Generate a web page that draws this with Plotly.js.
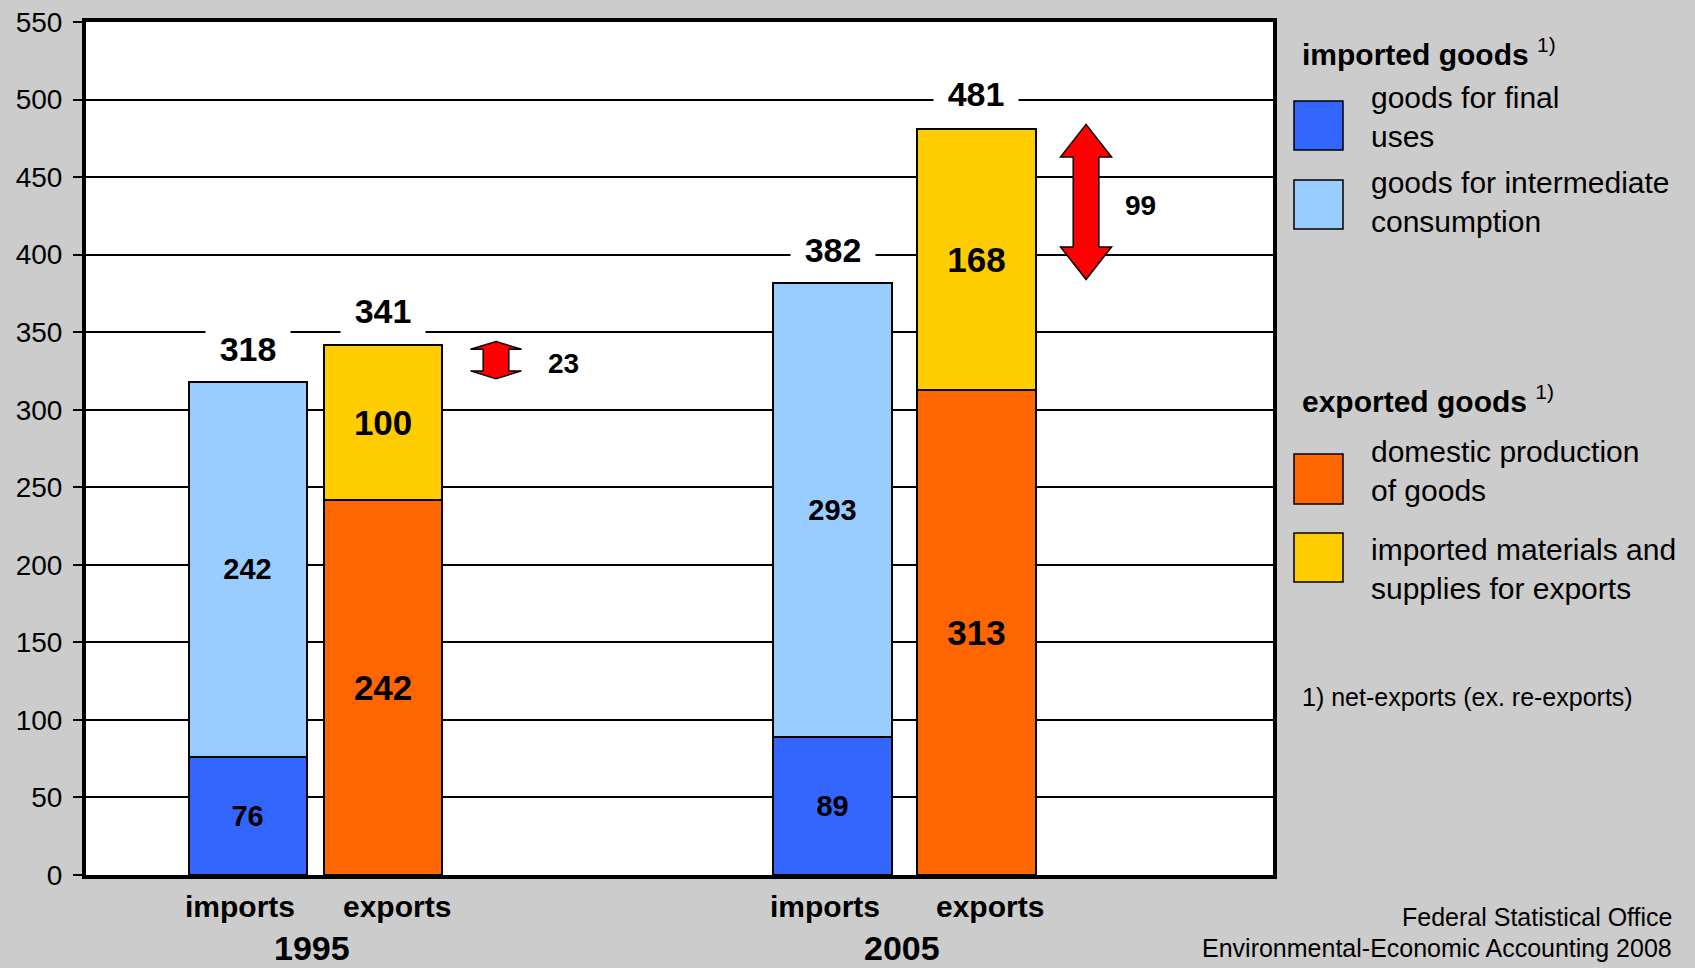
<!DOCTYPE html>
<html>
<head>
<meta charset="utf-8">
<script src="https://cdn.plot.ly/plotly-3.0.1.min.js"></script>
<style>
  html, body { margin: 0; padding: 0; background: #CCCCCC; }
  #chart { width: 1695px; height: 968px; }
</style>
</head>
<body>
<div id="chart"></div>
<script>
// ---------- data ----------
const years = ['1995', '2005'];
const barKinds = ['imports', 'exports'];
const importsFinal = [76, 89];
const importsIntermediate = [242, 293];
const exportsDomestic = [242, 313];
const exportsImportedMaterials = [100, 168];
const importsTotal = [318, 382];
const exportsTotal = [341, 481];
const netExports = [23, 99];

const legendImportHeader = 'imported goods';
const legendExportHeader = 'exported goods';
const legendLabels = [
  'goods for final<br>uses',
  'goods for intermediate<br>consumption',
  'domestic production<br>of goods',
  'imported materials and<br>supplies for exports'
];
const footnote = '1) net-exports (ex. re-exports)';
const sourceLines = ['Federal Statistical Office', 'Environmental-Economic Accounting 2008'];

// ---------- layout constants ----------
const COLORS = { final: '#3366FF', inter: '#99CCFF', domestic: '#FF6600', materials: '#FFCC00', arrow: '#FF0000' };
const FONT = 'Liberation Sans, Arial, sans-serif';
const W = 1695, H = 968;
const PL = 86, PR = 1273, PT = 22, PB = 875;   // plot area in pixels
const xImports = [1.361, 6.289];
const xExports = [2.503, 7.502];
const xArrow = [3.454, 8.425];
const xArrowLabel = [4.023, 8.88];
const BARW = 0.995;

const px = x => (x - PL) / (PR - PL);
const py = y => (PB - y) / (PB - PT);

// ---------- traces ----------
function bar(x, y, color, size) {
  return {
    type: 'bar', width: BARW, textposition: 'inside', insidetextanchor: 'middle',
    textangle: 0, hoverinfo: 'skip', showlegend: false,
    x: x, y: y, text: y.map(String),
    marker: { color: color, line: { color: '#000', width: 2 } },
    insidetextfont: { family: FONT, size: size, color: '#000', weight: 'bold' },
    textfont: { family: FONT, size: size, color: '#000', weight: 'bold' }
  };
}
const traces = [
  bar(xImports, importsFinal, COLORS.final, 29),
  bar(xImports, importsIntermediate, COLORS.inter, 29),
  bar(xExports, exportsDomestic, COLORS.domestic, 35),
  bar(xExports, exportsImportedMaterials, COLORS.materials, 35)
];

// ---------- annotations ----------
const annotations = [];
function totalLabel(x, y, shift) {
  annotations.push({
    x: x, y: y, xref: 'x', yref: 'y', text: String(y), showarrow: false,
    yshift: shift, xanchor: 'center', yanchor: 'middle',
    font: { family: FONT, size: 34, color: '#000', weight: 'bold' },
    bgcolor: '#FFFFFF', width: 84, height: 48, borderpad: 0
  });
}
years.forEach((yr, i) => {
  totalLabel(xImports[i], importsTotal[i], 33);
  totalLabel(xExports[i], exportsTotal[i], 35);
  // category labels below axis
  annotations.push({ x: xImports[i], y: py(906), xref: 'x', yref: 'paper', xshift: -8,
    text: barKinds[0], showarrow: false, yanchor: 'middle',
    font: { family: FONT, size: 30, color: '#000', weight: 'bold' } });
  annotations.push({ x: xExports[i], y: py(906), xref: 'x', yref: 'paper', xshift: 14,
    text: barKinds[1], showarrow: false, yanchor: 'middle',
    font: { family: FONT, size: 30, color: '#000', weight: 'bold' } });
  annotations.push({ x: (xImports[i] + xExports[i]) / 2, y: py(948), xref: 'x', yref: 'paper', xshift: -3,
    text: yr, showarrow: false, yanchor: 'middle',
    font: { family: FONT, size: 34, color: '#000', weight: 'bold' } });
  // net exports label
  annotations.push({ x: xArrowLabel[i], y: (importsTotal[i] + exportsTotal[i]) / 2, xref: 'x', yref: 'y',
    text: String(netExports[i]), showarrow: false, xanchor: 'center', yanchor: 'middle',
    font: { family: FONT, size: 28, color: '#000', weight: 'bold' } });
});

// legend headers
annotations.push({ x: px(1300), y: py(52), xref: 'paper', yref: 'paper', xanchor: 'left', yanchor: 'middle',
  text: '<b>' + legendImportHeader + '</b> <sup>1)</sup>', showarrow: false,
  font: { family: FONT, size: 30, color: '#000' } });
annotations.push({ x: px(1300), y: py(399), xref: 'paper', yref: 'paper', xanchor: 'left', yanchor: 'middle',
  text: '<b>' + legendExportHeader + '</b> <sup>1)</sup>', showarrow: false,
  font: { family: FONT, size: 30, color: '#000' } });

const legendBoxes = [
  { y0: 101, y1: 150, color: COLORS.final, ty: 117 },
  { y0: 180, y1: 229, color: COLORS.inter, ty: 202 },
  { y0: 454, y1: 504, color: COLORS.domestic, ty: 471 },
  { y0: 533, y1: 582, color: COLORS.materials, ty: 569 }
];
const shapes = [];
legendBoxes.forEach((b, i) => {
  shapes.push({ type: 'rect', xref: 'paper', yref: 'paper', x0: px(1294), x1: px(1343),
    y0: py(b.y1), y1: py(b.y0), fillcolor: b.color, line: { color: '#000', width: 1.5 } });
  annotations.push({ x: px(1369), y: py(b.ty), xref: 'paper', yref: 'paper', xanchor: 'left', yanchor: 'middle',
    align: 'left', text: legendLabels[i], showarrow: false,
    font: { family: FONT, size: 30, color: '#000' } });
});
annotations.push({ x: px(1300), y: py(697), xref: 'paper', yref: 'paper', xanchor: 'left', yanchor: 'middle',
  text: footnote, showarrow: false, font: { family: FONT, size: 25, color: '#000' } });
annotations.push({ x: px(1674), y: py(917), xref: 'paper', yref: 'paper', xanchor: 'right', yanchor: 'middle',
  text: sourceLines[0], showarrow: false, font: { family: FONT, size: 25, color: '#000' } });
annotations.push({ x: px(1674), y: py(948), xref: 'paper', yref: 'paper', xanchor: 'right', yanchor: 'middle',
  text: sourceLines[1], showarrow: false, font: { family: FONT, size: 25, color: '#000' } });

// ---------- double arrows (net exports) ----------
function arrowPath(xc, lo, hi) {
  const top = hi + 3, bot = lo + 2;
  const h = (top - bot) * 0.21;
  const hw = 0.215, sw = 0.108;
  return `M ${xc},${top} L ${xc + hw},${top - h} L ${xc + sw},${top - h} L ${xc + sw},${bot + h} ` +
         `L ${xc + hw},${bot + h} L ${xc},${bot} L ${xc - hw},${bot + h} L ${xc - sw},${bot + h} ` +
         `L ${xc - sw},${top - h} L ${xc - hw},${top - h} Z`;
}
years.forEach((yr, i) => {
  shapes.push({ type: 'path', xref: 'x', yref: 'y',
    path: arrowPath(xArrow[i], importsTotal[i], exportsTotal[i]),
    fillcolor: COLORS.arrow, line: { color: '#000', width: 1.5 } });
});

// ---------- layout ----------
const layout = {
  width: W, height: H,
  margin: { l: PL, r: W - PR, t: PT, b: H - PB, pad: 0 },
  paper_bgcolor: '#CCCCCC', plot_bgcolor: '#FFFFFF',
  barmode: 'stack', bargap: 0,
  showlegend: false,
  font: { family: FONT, color: '#000' },
  xaxis: {
    range: [0, 10], showticklabels: false, ticks: '', showgrid: false, zeroline: false,
    showline: true, linecolor: '#000', linewidth: 4, mirror: true, fixedrange: true
  },
  yaxis: {
    range: [0, 550], dtick: 50, tick0: 0, ticks: 'outside', ticklen: 9, tickwidth: 2, tickcolor: '#000',
    showgrid: true, gridcolor: '#000', gridwidth: 2, zeroline: false,
    showline: true, linecolor: '#000', linewidth: 4, mirror: true, ticklabelstandoff: 5,
    tickfont: { family: FONT, size: 28, color: '#000' }, fixedrange: true
  },
  annotations: annotations,
  shapes: shapes
};

Plotly.newPlot('chart', traces, layout, { displayModeBar: false, staticPlot: true });
</script>
</body>
</html>
